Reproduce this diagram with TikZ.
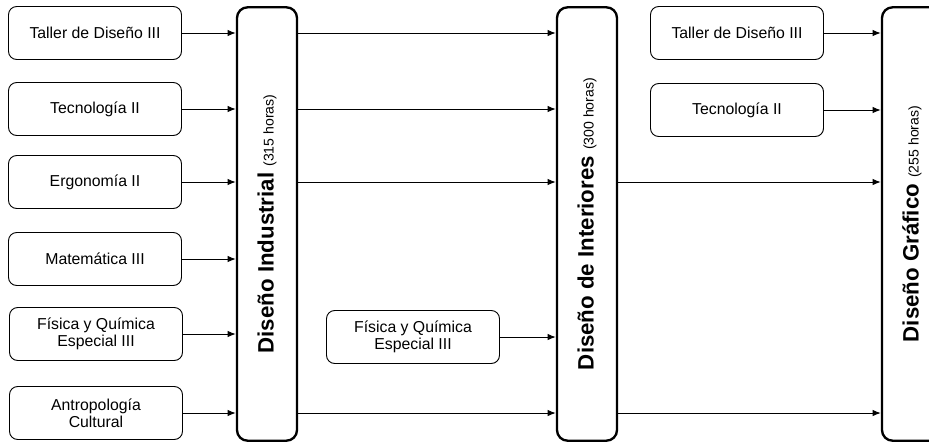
\documentclass[tikz,border=0pt]{standalone}
\usepackage{fontspec}
\setmainfont{Liberation Sans}
\usetikzlibrary{arrows.meta}
\begin{document}
\begin{tikzpicture}[x=0.03cm, y=-0.03cm,
		materia/.style={draw, rounded corners=7pt, line width=0.8pt, minimum width=5.19cm, minimum height=1.59cm, inner sep=0pt, align=center, font=\fontsize{13.5}{14.5}\selectfont},
		carrera/.style={draw, rounded corners=9pt, line width=2pt, minimum width=1.8cm, minimum height=13.0cm, inner sep=0pt},
		flecha/.style={-{Latex[length=7pt,width=5.5pt]}, line width=0.8pt}]
		\useasboundingbox (0,0) rectangle (929,443);
		\clip (0,0) rectangle (929,443);
		% carreras
		\node [carrera] (di) at (267,224) {\rotatebox{90}{\fontsize{19}{19}\selectfont\bfseries Diseño Industrial {\fontsize{12}{12}\selectfont\mdseries (315 horas)}}};
		\node [carrera] (dint) at (587,224) {\rotatebox{90}{\fontsize{19}{19}\selectfont\bfseries Diseño de Interiores {\fontsize{12}{12}\selectfont\mdseries (300 horas)}}};
		\node [carrera] (dg) at (912,224) {\rotatebox{90}{\fontsize{19}{19}\selectfont\bfseries Diseño Gráfico {\fontsize{12}{12}\selectfont\mdseries (255 horas)}}};
		% materias de Diseño Industrial
		\node [materia] (tal) at (95,33) {Taller de Diseño III};
		\node [materia] (tec) at (95,109) {Tecnología II};
		\node [materia] (erg) at (95,182) {Ergonomía II};
		\node [materia] (mat) at (95,259) {Matemática III};
		\node [materia] (fis) at (96,334) {Física y Química\\Especial III};
		\node [materia] (ant) at (96,413) {Antropología\\Cultural};
		% materias nuevas
		\node [materia] (fis2) at (413,337) {Física y Química\\Especial III};
		\node [materia] (tal2) at (737,33) {Taller de Diseño III};
		\node [materia] (tec2) at (737,110) {Tecnología II};
		% flechas
		\foreach \m in {tal,tec,erg,mat,fis,ant}
			\draw [flecha] (\m) -- (\m -| di.west);
		\foreach \m in {tal,tec,erg,ant}
			\draw [flecha] (\m -| di.east) -- (\m -| dint.west);
		\draw [flecha] (fis2) -- (fis2 -| dint.west);
		\foreach \m in {erg,ant}
			\draw [flecha] (\m -| dint.east) -- (\m -| dg.west);
		\draw [flecha] (tal2) -- (tal2 -| dg.west);
		\draw [flecha] (tec2) -- (tec2 -| dg.west);
	\end{tikzpicture}
\end{document}
